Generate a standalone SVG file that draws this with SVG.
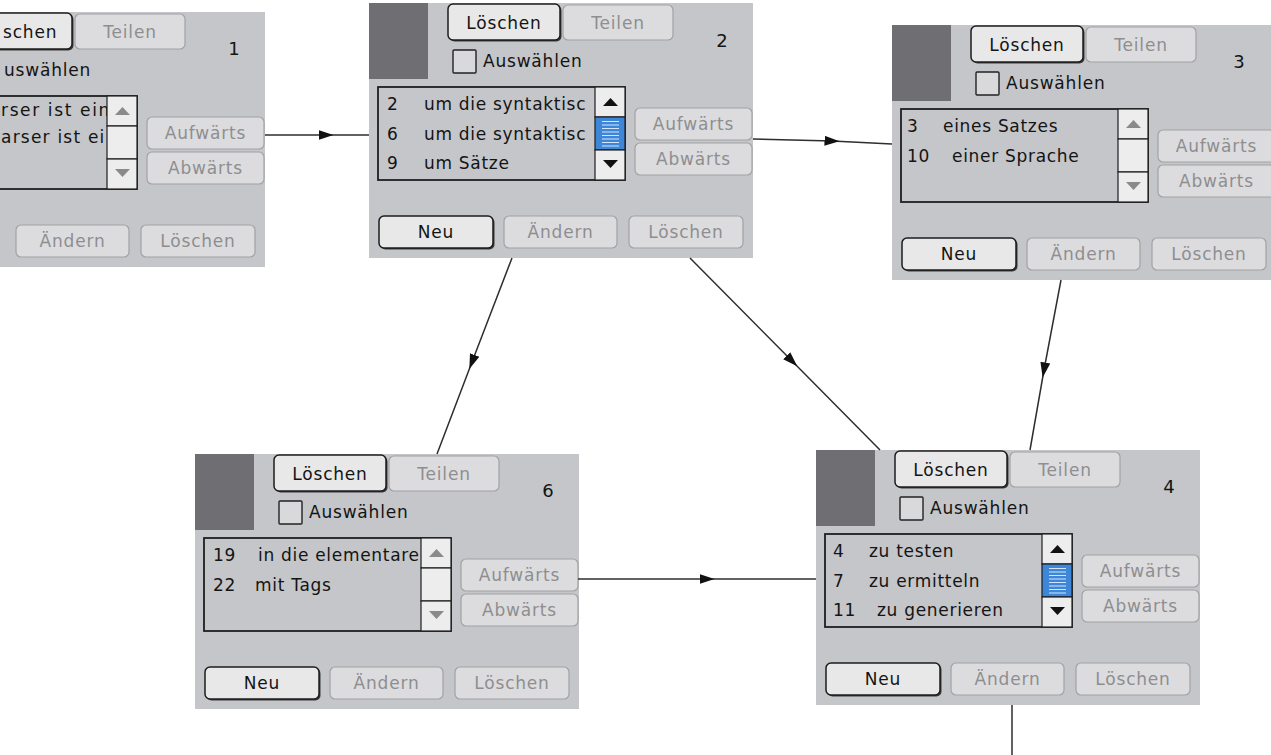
<svg xmlns="http://www.w3.org/2000/svg" xmlns:xlink="http://www.w3.org/1999/xlink" width="1271" height="755" viewBox="0 0 1271 755">
<style>
.panel{fill:#c4c6c9}
.sq{fill:#6f6e73}
.bA{fill:#e8e8e9;stroke:#1c1c1c;stroke-width:1.5}
.sh{fill:#3a3a3a}
.bD{fill:#dcdcde;stroke:#a2a2a4;stroke-width:1.2}
.cb{fill:#d9d9db;stroke:#222;stroke-width:1.4}
.lb{fill:none;stroke:#1e1e1e;stroke-width:1.8}
.sbox{fill:#ededee;stroke:#1e1e1e;stroke-width:1.2}
.triA{fill:#111}
.triI{fill:#8a8a8c}
.thumb{fill:#3d86d8;stroke:#1e1e1e;stroke-width:1.2}
.tl{stroke:#d4e6fb;stroke-width:1}
text{font-family:"DejaVu Sans","Liberation Sans",sans-serif}
.tA{font-size:17px;letter-spacing:0.8px;fill:#141414;text-anchor:middle}
.tD{font-size:17px;letter-spacing:0.8px;fill:#8e8e90;text-anchor:middle}
.t{font-size:17px;letter-spacing:0.8px;fill:#141414}
.num{font-size:18px;fill:#141414;text-anchor:middle}
.li{font-size:17px;letter-spacing:0.7px;fill:#141414}
.cn{fill:none;stroke:#2e2e2e;stroke-width:1.5}
.ca{marker-mid:url(#arr)}
</style>
<defs>
<marker id="arr" viewBox="0 0 15 11" markerWidth="15" markerHeight="11" refX="7.5" refY="5.5" markerUnits="userSpaceOnUse" orient="auto">
<path d="M0,0.5 L15,5.5 L0,10.5 Z" fill="#111"/>
</marker>
<clipPath id="lc"><rect x="10" y="85" width="216" height="91"/></clipPath>
<g id="chrome">
<rect class="panel" x="0" y="0" width="384" height="255"/>
<rect class="sq" x="0" y="0" width="59" height="76"/>
<rect class="sh" x="80.5" y="2.5" width="112" height="36" rx="5"/>
<rect class="bA" x="79" y="1" width="112" height="36" rx="5"/>
<rect class="bD" x="194" y="2" width="110" height="35" rx="5"/>
<rect class="cb" x="84" y="47" width="23" height="23" rx="1"/>
<rect class="lb" x="9" y="84" width="247" height="93"/>
<rect class="bD" x="266" y="105" width="117" height="32" rx="5"/>
<rect class="bD" x="266" y="140" width="117" height="32" rx="5"/>
<rect class="bD" x="135" y="213" width="113" height="32" rx="5"/>
<rect class="bD" x="260" y="213" width="114" height="32" rx="5"/>
</g>
<g id="neu">
<rect class="sh" x="11.5" y="214.5" width="114" height="32" rx="5"/>
<rect class="bA" x="10" y="213" width="114" height="32" rx="5"/>
</g>
<g id="sbA">
<rect class="sbox" x="226" y="84" width="30" height="30"/>
<rect class="thumb" x="226" y="114" width="30" height="33"/>
<path class="tl" d="M233,118.5H250M233,122H250M233,125.5H250M233,129H250M233,132.5H250M233,136H250M233,139.5H250M233,143H250"/>
<rect class="sbox" x="226" y="147" width="30" height="30"/>
<path class="triA" d="M234,103 L249,103 L241.5,95 Z"/>
<path class="triA" d="M234,157 L249,157 L241.5,165 Z"/>
</g>
<g id="sbI">
<rect class="sbox" x="226" y="84" width="30" height="30"/>
<rect class="sbox" x="226" y="114" width="30" height="33"/>
<rect class="sbox" x="226" y="147" width="30" height="30"/>
<path class="triI" d="M234,103 L249,103 L241.5,95 Z"/>
<path class="triI" d="M234,157 L249,157 L241.5,165 Z"/>
</g>
</defs>
<rect width="1271" height="755" fill="#ffffff"/>

<g id="node-1" transform="translate(-119,12)">
<use xlink:href="#chrome"/>
<use xlink:href="#sbI"/>
<text class="t" x="122" y="26">schen</text>
<text class="tD" x="249" y="26">Teilen</text>
<text class="num" x="353" y="43">1</text>
<text class="t" x="123" y="64">uswählen</text>
<g clip-path="url(#lc)">
<text class="li" x="120" y="104" textLength="109" lengthAdjust="spacing">rser ist ein</text>
<text class="li" x="120" y="131" textLength="104" lengthAdjust="spacing">arser ist ei</text>
</g>
<text class="tD" x="324.5" y="127">Aufwärts</text>
<text class="tD" x="324.5" y="162">Abwärts</text>
<text class="tD" x="191.5" y="235">Ändern</text>
<text class="tD" x="317" y="235">Löschen</text>
</g>

<g id="node-2" transform="translate(369,3)">
<use xlink:href="#chrome"/>
<use xlink:href="#neu"/>
<use xlink:href="#sbA"/>
<text class="tA" x="135" y="26">Löschen</text>
<text class="tD" x="249" y="26">Teilen</text>
<text class="num" x="353" y="44">2</text>
<text class="t" x="114" y="64">Auswählen</text>
<g clip-path="url(#lc)">
<text class="li" x="18" y="107">2</text>
<text class="li" x="55" y="107">um die syntaktisc</text>
<text class="li" x="18" y="137">6</text>
<text class="li" x="55" y="137">um die syntaktisc</text>
<text class="li" x="18" y="166">9</text>
<text class="li" x="55" y="166">um Sätze</text>
</g>
<text class="tD" x="324.5" y="127">Aufwärts</text>
<text class="tD" x="324.5" y="162">Abwärts</text>
<text class="tA" x="67" y="235">Neu</text>
<text class="tD" x="191.5" y="235">Ändern</text>
<text class="tD" x="317" y="235">Löschen</text>
</g>

<g id="node-3" transform="translate(892,25)">
<use xlink:href="#chrome"/>
<use xlink:href="#neu"/>
<use xlink:href="#sbI"/>
<text class="tA" x="135" y="26">Löschen</text>
<text class="tD" x="249" y="26">Teilen</text>
<text class="num" x="347" y="43">3</text>
<text class="t" x="114" y="64">Auswählen</text>
<g clip-path="url(#lc)">
<text class="li" x="15" y="107">3</text>
<text class="li" x="51" y="107">eines Satzes</text>
<text class="li" x="15" y="137">10</text>
<text class="li" x="60" y="137">einer Sprache</text>
</g>
<text class="tD" x="324.5" y="127">Aufwärts</text>
<text class="tD" x="324.5" y="162">Abwärts</text>
<text class="tA" x="67" y="235">Neu</text>
<text class="tD" x="191.5" y="235">Ändern</text>
<text class="tD" x="317" y="235">Löschen</text>
</g>

<g id="node-6" transform="translate(195,454)">
<use xlink:href="#chrome"/>
<use xlink:href="#neu"/>
<use xlink:href="#sbI"/>
<text class="tA" x="135" y="26">Löschen</text>
<text class="tD" x="249" y="26">Teilen</text>
<text class="num" x="353" y="43">6</text>
<text class="t" x="114" y="64">Auswählen</text>
<g clip-path="url(#lc)">
<text class="li" x="18" y="107">19</text>
<text class="li" x="63" y="107">in die elementare</text>
<text class="li" x="18" y="137">22</text>
<text class="li" x="60" y="137">mit Tags</text>
</g>
<text class="tD" x="324.5" y="127">Aufwärts</text>
<text class="tD" x="324.5" y="162">Abwärts</text>
<text class="tA" x="67" y="235">Neu</text>
<text class="tD" x="191.5" y="235">Ändern</text>
<text class="tD" x="317" y="235">Löschen</text>
</g>

<g id="node-4" transform="translate(816,450)">
<use xlink:href="#chrome"/>
<use xlink:href="#neu"/>
<use xlink:href="#sbA"/>
<text class="tA" x="135" y="26">Löschen</text>
<text class="tD" x="249" y="26">Teilen</text>
<text class="num" x="353" y="43">4</text>
<text class="t" x="114" y="64">Auswählen</text>
<g clip-path="url(#lc)">
<text class="li" x="17" y="107">4</text>
<text class="li" x="53" y="107">zu testen</text>
<text class="li" x="17" y="137">7</text>
<text class="li" x="53" y="137">zu ermitteln</text>
<text class="li" x="17" y="166">11</text>
<text class="li" x="61" y="166">zu generieren</text>
</g>
<text class="tD" x="324.5" y="127">Aufwärts</text>
<text class="tD" x="324.5" y="162">Abwärts</text>
<text class="tA" x="67" y="235">Neu</text>
<text class="tD" x="191.5" y="235">Ändern</text>
<text class="tD" x="317" y="235">Löschen</text>
</g>

<g id="connectors">
<path class="cn ca" d="M265,135 L326,135 L369,135"/>
<path class="cn ca" d="M753,139 L832,141 L892,144"/>
<path class="cn ca" d="M512,258 L472,362 L437,454"/>
<path class="cn ca" d="M690,258 L792,361 L880,450"/>
<path class="cn ca" d="M1061,280 L1044,370 L1030,450"/>
<path class="cn ca" d="M578,579 L707,579 L816,579"/>
<path class="cn" d="M1012,705 L1012,755"/>
</g>
</svg>
